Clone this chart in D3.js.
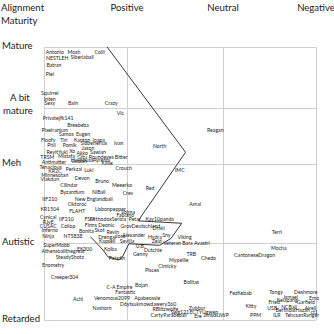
<!DOCTYPE html>
<html>
<head>
<meta charset="utf-8">
<script src="https://cdn.jsdelivr.net/npm/d3@7"></script>
<style>
  html, body { margin: 0; padding: 0; background: #fff; }
  svg { display: block; }
  text { font-family: Lato, "Open Sans", sans-serif; fill: #222; }
</style>
</head>
<body>
<svg id="chart" width="334" height="334"></svg>
<script>
// Axis categories
const alignmentTicks = ["Positive", "Neutral", "Negative"];
const alignmentTickValues = [0, 100, 200];
const maturityTicks = ["Mature", "A bit mature", "Meh", "Autistic", "Retarded"];
const maturityTickValues = [0, 100, 200, 300, 400];

// Members: name, alignment score (-100 very positive .. 200 negative), maturity score (0 mature .. 400 retarded)
const names = [
  "Antonio","Mosh","Colli","NESTLEH","Siberiaball","Batran","Piel","Squirrel","Inten","Sexy","Bain","Crazy",
  "Privatejfk141","Vic","Breebeba","Pixelranium","Samos","Eugen","Floofy","Tin","Kanton","Ioana","Ivan","Sidbeneflux",
  "Phil","Pomik","Jason","Reylt","Yuki","Xo","Akko","Sawlan","Bitter","TRSM","Mistafa","Gitu","Roundeyes",
  "Hayabusa","Ayrenia","Antimatter","Vardan","Killie","Crouch","Tenacious","Perkzal","Luki","KR2C","Minnesotan",
  "Devon","Viakdun","Bruno","Meeerko","Cilindar","Red","Crev","Byzantium","NiBall","IIF210","New Englandball",
  "Oktoroc","Amal","KR1504","FLAHT","Lisbonpepper","Vojma","Fabiano","Cynical","IIF210","FSM","OrthodoxSerbia",
  "Petar","Kay10panda","RJvE","CUSAC","Coilop","Finns Deonic","GrovDeutschland","Draki","Inferno","Bonita","Skot",
  "Revin","Ninja","NT5838","Drengal","Jose","Alexander","Hydra","Sny","Viking","Terri","SuperMobb","Kapseli",
  "Sevilla","Zeld","Veteran","Bara","Avastri","Mocha","EK300","U.B.","Dutchie","Athensballthegreat","Kolba",
  "Genny","TRB","CantoneseDragon","SteadyShotz","Paladin","Chedo","Mypellie","Enometry","Cimicky","Pisces",
  "Creeper304","Bolitas","Bojan","C-A Empire","Fantastic","FezKebab","Tongy","Deshmore","Ismael","Emo","Kelapang",
  "Achi","Venomous2099","Apabeossie","Fried","Garfield","Döytsukmowdawery360","Kitty","USB","NCBall","Alrell",
  "Nashorn","RBlitzwolfe","Zubbur","BertholdHazah","Swg121","ECTYUgwen","ct1","IIJWP","PPM","ILR","TehcsanRanger",
  "Carty","Parabeball","Ere","Jimso","Reagan","North","IMC"
];
const alignment = [
  -87,-64,-33,-84,-54,-88,-93,-93,-93,-93,-65,-19,
  -83,-8,-59,-87,-73,-53,-95,-76,-54,-34,-10,-40,
  -91,-69,-47,-90,-77,-66,-54,-35,-7,-96,-73,-54,-31,
  -54,-31,-88,-58,-24,-4,-92,-64,-46,-87,-87,
  -54,-93,-30,-6,-70,24,1,-66,-34,-93,-40,
  -60,71,-93,-60,-20,1,-2,-95,-73,-45,-23,
  8,34,-95,-95,-71,-33,14,33,-93,-49,-33,
  -17,-95,-65,-24,-8,7,29,41,60,158,-85,-24,
  0,31,47,63,78,160,-51,14,27,-77,-20,
  14,67,134,-69,-12,85,54,-89,42,26,
  -75,67,15,-9,-2,119,157,189,173,198,169,
  -59,-18,21,155,189,22,130,153,171,194,
  -30,40,73,175,55,80,198,99,135,158,185,
  31,50,74,86,92,34,55
];
const maturity = [
  9,8,8,18,17,30,44,75,85,91,91,91,
  117,109,130,139,147,147,157,157,157,157,163,163,
  166,166,171,179,179,177,180,178,187,187,186,187,187,
  193,193,197,195,199,205,204,206,208,209,214,
  218,219,221,226,227,230,237,236,235,244,244,
  250,251,257,259,257,261,265,267,270,269,270,
  269,270,273,279,279,277,279,281,284,285,284,
  286,291,291,293,291,290,293,290,292,286,302,298,
  298,298,300,300,300,306,308,304,309,311,308,
  314,314,315,318,319,320,322,329,330,335,
  344,351,354,357,364,365,363,363,370,372,374,
  373,371,371,376,377,379,382,384,383,384,
  385,386,384,387,389,389,389,393,393,393,393,
  394,394,395,393,139,167,207
];

// Boundary drawn around the positive / mature group
const boundaryAlign = [-24, 61, 15, 12, 57, 46, 34, 2, -6, -10, -23, -29, -44];
const boundaryMaturity = [0, 179, 266, 272, 275, 294, 303, 301, 319, 322, 318, 309, 292];

const svg = d3.select("#chart");

const x = d3.scaleLinear().domain([-100, 0, 100, 200]).range([44, 127, 223, 316]);
const y = d3.scaleLinear().domain([0, 100, 200, 300, 400]).range([47, 108, 164, 243, 320]);

const labelSize = 9.6;

// Grid
const grid = svg.append("g").attr("stroke", "#cfcfcf").attr("stroke-width", 1).attr("shape-rendering", "crispEdges");
grid.selectAll("line.v").data([-100].concat(alignmentTickValues)).join("line")
  .attr("class", "v")
  .attr("x1", d => Math.round(x(d)) + 0.5).attr("x2", d => Math.round(x(d)) + 0.5)
  .attr("y1", y(0)).attr("y2", y(400));
grid.selectAll("line.h").data(maturityTickValues).join("line")
  .attr("class", "h")
  .attr("x1", x(-100)).attr("x2", x(200))
  .attr("y1", d => Math.round(y(d)) + 0.5).attr("y2", d => Math.round(y(d)) + 0.5);

// Header labels
svg.append("text").attr("x", 1).attr("y", 7).attr("dominant-baseline", "central")
  .attr("font-size", labelSize).text("Alignment");
svg.append("text").attr("x", 1).attr("y", 20).attr("dominant-baseline", "central")
  .attr("font-size", labelSize).text("Maturity");

svg.selectAll("text.colLabel").data(alignmentTicks).join("text")
  .attr("class", "colLabel")
  .attr("x", (d, i) => x(alignmentTickValues[i]))
  .attr("y", 7)
  .attr("text-anchor", "middle")
  .attr("dominant-baseline", "central")
  .attr("font-size", labelSize)
  .text(d => d);

// Row labels (the two-word label wraps)
maturityTicks.forEach((t, i) => {
  const yy = y(maturityTickValues[i]) - 2;
  if (t === "A bit mature") {
    svg.append("text").attr("x", 10).attr("y", yy - 9).attr("dominant-baseline", "central")
      .attr("font-size", labelSize).text("A bit");
    svg.append("text").attr("x", 3).attr("y", yy + 4).attr("dominant-baseline", "central")
      .attr("font-size", labelSize).text("mature");
  } else {
    svg.append("text").attr("x", 2).attr("y", yy).attr("dominant-baseline", "central")
      .attr("font-size", labelSize).text(t);
  }
});

// Boundary line
const boundary = boundaryAlign.map((a, i) => [a, boundaryMaturity[i]]);
svg.append("path")
  .attr("d", d3.line().x(d => x(d[0])).y(d => y(d[1]))(boundary))
  .attr("fill", "none").attr("stroke", "#222").attr("stroke-width", 0.9);

// Member names
const members = names.map((n, i) => ({ name: n, a: alignment[i], m: maturity[i] }));
svg.append("g").selectAll("text").data(members).join("text")
  .attr("x", d => x(d.a))
  .attr("y", d => y(d.m))
  .attr("text-anchor", "middle")
  .attr("dominant-baseline", "central")
  .attr("font-size", 5.2)
  .text(d => d.name);
</script>
</body>
</html>
